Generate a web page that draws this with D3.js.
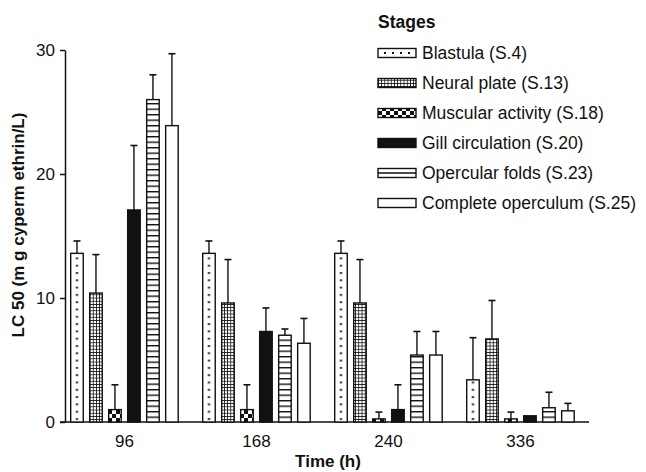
<!DOCTYPE html>
<html>
<head>
<meta charset="utf-8">
<script src="https://cdn.jsdelivr.net/npm/d3@7"></script>
<style>
  body { margin: 0; background: #fff; }
  text { font-family: "Liberation Sans", Arial, sans-serif; fill: #111; }
  .axis path, .axis line { stroke: #111; stroke-width: 1.5; }
  .axis text { font-size: 17px; }
  .axis-label { font-size: 17px; font-weight: bold; }
</style>
</head>
<body>
<div id="chart"></div>
<script>
// Data
var times = ['96', '168', '240', '336'];
var stages = ['Blastula (S.4)', 'Neural plate (S.13)', 'Muscular activity (S.18)',
              'Gill circulation (S.20)', 'Opercular folds (S.23)', 'Complete operculum (S.25)'];
var blastula    = [13.6, 13.6, 13.6, 3.4];
var blastulaErr = [1.0, 1.0, 1.0, 3.4];
var neural      = [10.4, 9.6, 9.6, 6.7];
var neuralErr   = [3.1, 3.5, 3.5, 3.1];
var muscular    = [1.0, 1.0, 0.25, 0.25];
var muscularErr = [2.0, 2.0, 0.55, 0.55];
var gill        = [17.1, 7.3, 1.0, 0.5];
var gillErr     = [5.2, 1.9, 2.0, 0];
var opFolds     = [26.0, 7.0, 5.4, 1.15];
var opFoldsErr  = [2.0, 0.5, 1.9, 1.25];
var complete    = [23.9, 6.35, 5.4, 0.9];
var completeErr = [5.8, 2.0, 1.9, 0.6];
var yTicks = [0, 10, 20, 30];

var values = [blastula, neural, muscular, gill, opFolds, complete];
var errors = [blastulaErr, neuralErr, muscularErr, gillErr, opFoldsErr, completeErr];
var fills = ['dots', 'grid', 'check', 'solid', 'lines', 'none'];

var bars = [];
times.forEach(function(t, ti) {
  stages.forEach(function(s, si) {
    bars.push({ time: t, stage: s, si: si, value: values[si][ti], err: errors[si][ti] });
  });
});

var svg = d3.select('#chart')
            .append('svg')
            .attr('width', 646)
            .attr('height', 472);

var defs = svg.append('defs');

// Scales
var x0 = d3.scaleBand()
           .domain(times)
           .range([58.5, 586.5]);

var x1 = d3.scaleBand()
           .domain(stages)
           .range([-53.8, 53.7])
           .paddingInner(0.34);

var y = d3.scaleLinear()
          .domain([0, 30])
          .range([422, 50]);

function barX(d) {
  return x0(d.time) + x0.bandwidth() / 2 + x1(d.stage);
}

// Shared patterns
var grid = defs.append('pattern')
               .attr('id', 'grid')
               .attr('patternUnits', 'userSpaceOnUse')
               .attr('width', 3.2).attr('height', 3.2);
grid.append('rect').attr('width', 3.2).attr('height', 3.2).attr('fill', '#111');
grid.append('rect').attr('x', 0.8).attr('y', 0.8).attr('width', 2.4).attr('height', 2.4).attr('fill', '#fff');

var check = defs.append('pattern')
                .attr('id', 'check')
                .attr('patternUnits', 'userSpaceOnUse')
                .attr('width', 8).attr('height', 8)
                .attr('y', 422);
check.append('rect').attr('width', 8).attr('height', 8).attr('fill', '#fff');
check.append('rect').attr('width', 4).attr('height', 4).attr('fill', '#111');
check.append('rect').attr('x', 4).attr('y', 4).attr('width', 4).attr('height', 4).attr('fill', '#111');

var lines = defs.append('pattern')
                .attr('id', 'lines')
                .attr('patternUnits', 'userSpaceOnUse')
                .attr('width', 10).attr('height', 5.5)
                .attr('y', 422);
lines.append('rect').attr('width', 10).attr('height', 5.5).attr('fill', '#fff');
lines.append('rect').attr('y', 0).attr('width', 10).attr('height', 1.4).attr('fill', '#111');

// One dot column per blastula bar, centred on the bar
bars.filter(function(d) { return fills[d.si] === 'dots'; }).forEach(function(d, i) {
  d.patId = 'dots' + i;
  var p = defs.append('pattern')
              .attr('id', d.patId)
              .attr('patternUnits', 'userSpaceOnUse')
              .attr('x', barX(d))
              .attr('y', 422 - 4)
              .attr('width', x1.bandwidth())
              .attr('height', 7.3);
  p.append('rect').attr('width', x1.bandwidth()).attr('height', 7.3).attr('fill', '#fff');
  p.append('rect').attr('x', x1.bandwidth() / 2 - 1).attr('y', 0).attr('width', 2).attr('height', 2).attr('fill', '#111');
});

function fillFor(kind, d) {
  if (kind === 'dots') return 'url(#' + d.patId + ')';
  if (kind === 'grid') return 'url(#grid)';
  if (kind === 'check') return 'url(#check)';
  if (kind === 'lines') return 'url(#lines)';
  if (kind === 'solid') return '#111';
  return '#fff';
}

// Axes
var yAxis = d3.axisLeft(y)
              .tickValues(yTicks)
              .tickSize(5)
              .tickSizeOuter(0)
              .tickPadding(5);

svg.append('g')
   .attr('class', 'y-axis axis')
   .attr('transform', 'translate(65,0)')
   .call(yAxis);

var xAxis = d3.axisBottom(x0)
              .tickSize(0)
              .tickSizeOuter(0)
              .tickPadding(13);

svg.append('g')
   .attr('class', 'x-axis axis')
   .attr('transform', 'translate(0,422)')
   .call(xAxis);

svg.select('.x-axis .domain').attr('d', 'M60,0H589');

// Bars
svg.selectAll('.bar')
   .data(bars)
   .enter()
   .append('rect')
   .attr('class', 'bar')
   .attr('x', barX)
   .attr('y', function(d) { return y(d.value); })
   .attr('width', x1.bandwidth())
   .attr('height', function(d) { return y(0) - y(d.value); })
   .attr('fill', function(d) { return fillFor(fills[d.si], d); })
   .attr('stroke', '#111')
   .attr('stroke-width', 1.4);

// Error bars (upper whisker only)
var eb = svg.selectAll('.err')
            .data(bars.filter(function(d) { return d.err > 0; }))
            .enter()
            .append('g')
            .attr('class', 'err')
            .attr('transform', function(d) {
              return 'translate(' + (barX(d) + x1.bandwidth() / 2) + ',0)';
            });

eb.append('line')
  .attr('y1', function(d) { return y(d.value); })
  .attr('y2', function(d) { return y(d.value + d.err); })
  .attr('stroke', '#111')
  .attr('stroke-width', 1.4);

eb.append('line')
  .attr('x1', -3.5).attr('x2', 3.5)
  .attr('y1', function(d) { return y(d.value + d.err); })
  .attr('y2', function(d) { return y(d.value + d.err); })
  .attr('stroke', '#111')
  .attr('stroke-width', 1.6);

// Axis labels
svg.append('text')
   .attr('class', 'axis-label')
   .attr('x', 328)
   .attr('y', 467)
   .attr('text-anchor', 'middle')
   .text('Time (h)');

svg.append('text')
   .attr('class', 'axis-label')
   .attr('transform', 'translate(24,225) rotate(-90)')
   .attr('text-anchor', 'middle')
   .text('LC 50 (m g cyperm ethrin/L)');

// Legend
var legend = svg.append('g')
                .attr('class', 'legend')
                .attr('transform', 'translate(378,0)');

legend.append('text')
      .attr('x', 0)
      .attr('y', 28)
      .attr('font-size', '17.5px')
      .attr('font-weight', 'bold')
      .text('Stages');

var item = legend.selectAll('.item')
                 .data(stages)
                 .enter()
                 .append('g')
                 .attr('class', 'item')
                 .attr('transform', function(d, i) { return 'translate(0,' + (53 + i * 30) + ')'; });

item.append('rect')
    .attr('x', 0)
    .attr('y', -4.5)
    .attr('width', 38)
    .attr('height', 9)
    .attr('fill', function(d, i) {
      var k = fills[i];
      if (k === 'dots' || k === 'none' || k === 'lines') return '#fff';
      return fillFor(k, {});
    })
    .attr('stroke', '#111')
    .attr('stroke-width', 1.4);

// dotted row for the blastula swatch and a mid stripe for the opercular swatch
item.filter(function(d, i) { return fills[i] === 'dots'; })
    .selectAll('.ldot')
    .data([7, 15, 23, 31])
    .enter()
    .append('rect')
    .attr('x', function(d) { return d - 1; })
    .attr('y', -1)
    .attr('width', 2)
    .attr('height', 2)
    .attr('fill', '#111');

item.filter(function(d, i) { return fills[i] === 'lines'; })
    .append('line')
    .attr('x1', 0).attr('x2', 38)
    .attr('y1', 0).attr('y2', 0)
    .attr('stroke', '#111')
    .attr('stroke-width', 1.4);

item.append('text')
    .attr('x', 44)
    .attr('y', 0)
    .attr('dy', '0.36em')
    .attr('font-size', '17.5px')
    .text(function(d) { return d; });
</script>
</body>
</html>
